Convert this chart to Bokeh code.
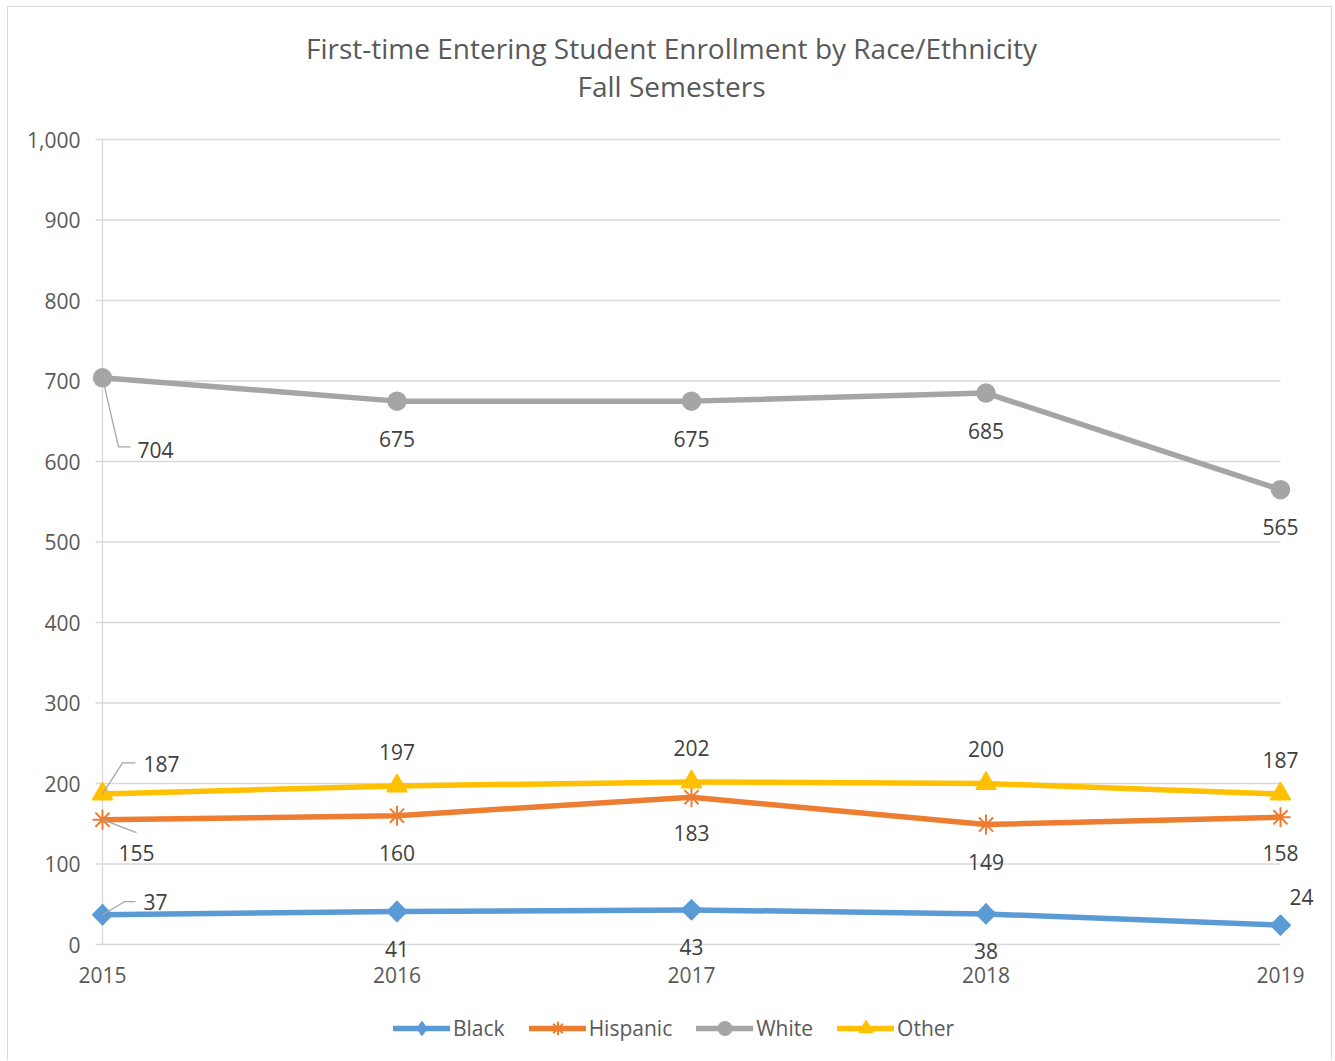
from bokeh.plotting import figure
from bokeh.models import Range1d, Legend, LegendItem, Label, ColumnDataSource
from bokeh.core.properties import value
from bokeh.embed import file_html
from bokeh.resources import INLINE
import math

# ---------------- data ----------------
years = [2015, 2016, 2017, 2018, 2019]
black = [37, 41, 43, 38, 24]
hispanic = [155, 160, 183, 149, 158]
white = [704, 675, 675, 685, 565]
other = [187, 197, 202, 200, 187]
series_names = ["Black", "Hispanic", "White", "Other"]
y_ticks = list(range(0, 1001, 100))
y_tick_labels = [f"{t:,}" for t in y_ticks]
x_tick_labels = [str(y) for y in years]
title_line1 = "First-time Entering Student Enrollment by Race/Ethnicity"
title_line2 = "Fall Semesters"

# ---------------- styles ----------------
FONT = "Open Sans"
GRID = "#d9d9d9"
colors = ["#5B9BD5", "#ED7D31", "#A5A5A5", "#FFC000"]
markers = ["diamond", "asterisk", "circle", "triangle"]
marker_sizes = [20, 20, 18, 20]
marker_lw = [1.5, 2.0, 1.5, 1.5]
LINE_W = 5.5
# data-label offsets in screen pixels (down positive)
label_dx = [[53, 0, 0, 0, 21], [34, 0, 0, 0, 0], [53, 0, 0, 0, 0], [59, 0, 0, 0, 0]]
label_dy = [[-13, 38, 37, 37, -28], [33, 37, 36, 37, 36], [72, 38, 38, 38, 37], [-30, -34, -34, -35, -34]]
# leader lines for the first point of each series (screen px relative to point)
leader_px = [[(0, 0), (22, -13), (33, -13)],
             [(0, 0), (34, 13)],
             [(0, 0), (16, 69), (28, 69)],
             [(0, 0), (20, -31), (33, -31)]]

# layout (pixels)
W, H = 1325, 1054
PAD_L, PAD_R, PAD_T, PAD_B = 94, 53, 132, 117   # room around the plotted area
TICK_OUT = 7
XLABEL_DY = 30
YLABEL_DX = -22

px_per_x = (W - PAD_L - PAD_R) / (years[-1] - years[0])
px_per_y = (H - PAD_T - PAD_B) / (y_ticks[-1] - y_ticks[0])
x_start = years[0] - PAD_L / px_per_x
x_end = years[-1] + PAD_R / px_per_x
y_start = y_ticks[0] - PAD_B / px_per_y
y_end = y_ticks[-1] + PAD_T / px_per_y

p = figure(width=W, height=H, output_backend="svg", toolbar_location=None,
           x_range=Range1d(x_start, x_end), y_range=Range1d(y_start, y_end),
           x_axis_location=None, y_axis_location=None,
           min_border_left=0, min_border_right=0, min_border_top=0, min_border_bottom=0)
p.margin = (6, 0, 0, 7)
p.styles = {"border-left": "1px solid #d9d9d9", "border-top": "1px solid #d9d9d9",
            "border-right": "1px solid #d9d9d9"}
p.outline_line_color = None
p.background_fill_color = "white"
p.border_fill_color = "white"
p.grid.grid_line_color = None

# gridlines (with short outward tick) and vertical axis line
tick_x0 = years[0] - TICK_OUT / px_per_x
p.segment(x0=[tick_x0] * len(y_ticks), y0=y_ticks, x1=[years[-1]] * len(y_ticks), y1=y_ticks,
          line_color=GRID, line_width=1.3)
p.segment(x0=[years[0]], y0=[y_ticks[0]], x1=[years[0]], y1=[y_ticks[-1]],
          line_color=GRID, line_width=1.3)

# axis tick labels
p.text(x=[years[0]] * len(y_ticks), y=y_ticks, text=y_tick_labels, x_offset=YLABEL_DX,
       text_font=value(FONT), text_font_size="21px", text_color="#595959",
       text_align="right", text_baseline="middle")
p.text(x=years, y=[y_ticks[0]] * len(years), text=x_tick_labels, y_offset=XLABEL_DY,
       text_font=value(FONT), text_font_size="21px", text_color="#595959",
       text_align="center", text_baseline="middle")

items = []
all_series = [black, hispanic, white, other]
for i, (name, vals) in enumerate(zip(series_names, all_series)):
    src = ColumnDataSource(dict(x=years, y=vals))
    ln = p.line("x", "y", source=src, line_color=colors[i], line_width=LINE_W,
                line_cap="round", line_join="round")
    sc = p.scatter("x", "y", source=src, marker=markers[i], size=marker_sizes[i],
                   fill_color=colors[i], line_color=colors[i], line_width=marker_lw[i])
    if markers[i] == "diamond":
        # Excel-style wider diamond drawn over the narrow one (not in legend)
        p.scatter("x", "y", source=src, marker="square", size=14, angle=math.pi / 4,
                  fill_color=colors[i], line_color=colors[i], line_width=marker_lw[i])
    items.append(LegendItem(label=name, renderers=[ln, sc]))

for i, vals in enumerate(all_series):
    lx = [years[0] + dx / px_per_x for dx, dy in leader_px[i]]
    ly = [vals[0] - dy / px_per_y for dx, dy in leader_px[i]]
    p.line(lx, ly, line_color="#a6a6a6", line_width=1.3)
    src = ColumnDataSource(dict(x=years, y=vals, lab=[str(v) for v in vals],
                                dx=label_dx[i], dy=label_dy[i]))
    p.text("x", "y", text="lab", source=src, x_offset="dx", y_offset="dy",
           text_font=value(FONT), text_font_size="21px", text_color="#404040",
           text_align="center", text_baseline="middle")

# legend below the plot area (screen px from the frame's bottom-left)
legend = Legend(items=items, orientation="horizontal", location=(385, 16),
                glyph_width=57, glyph_height=34, label_standoff=3, spacing=24,
                padding=0, margin=0, background_fill_alpha=0, border_line_color=None,
                label_text_font=FONT, label_text_font_size="21px", label_text_color="#595959")
p.add_layout(legend, "center")

# two-line title (screen px from the frame's bottom-left)
TITLE_X = 663
p.add_layout(Label(x=TITLE_X, y=1014, x_units="screen", y_units="screen",
                   text=title_line1, text_align="center", text_baseline="middle",
                   text_font=FONT, text_font_size="28px", text_color="#595959"))
p.add_layout(Label(x=TITLE_X, y=976, x_units="screen", y_units="screen",
                   text=title_line2, text_align="center", text_baseline="middle",
                   text_font=FONT, text_font_size="28px", text_color="#595959"))

open("out.html", "w").write(file_html(p, INLINE))
